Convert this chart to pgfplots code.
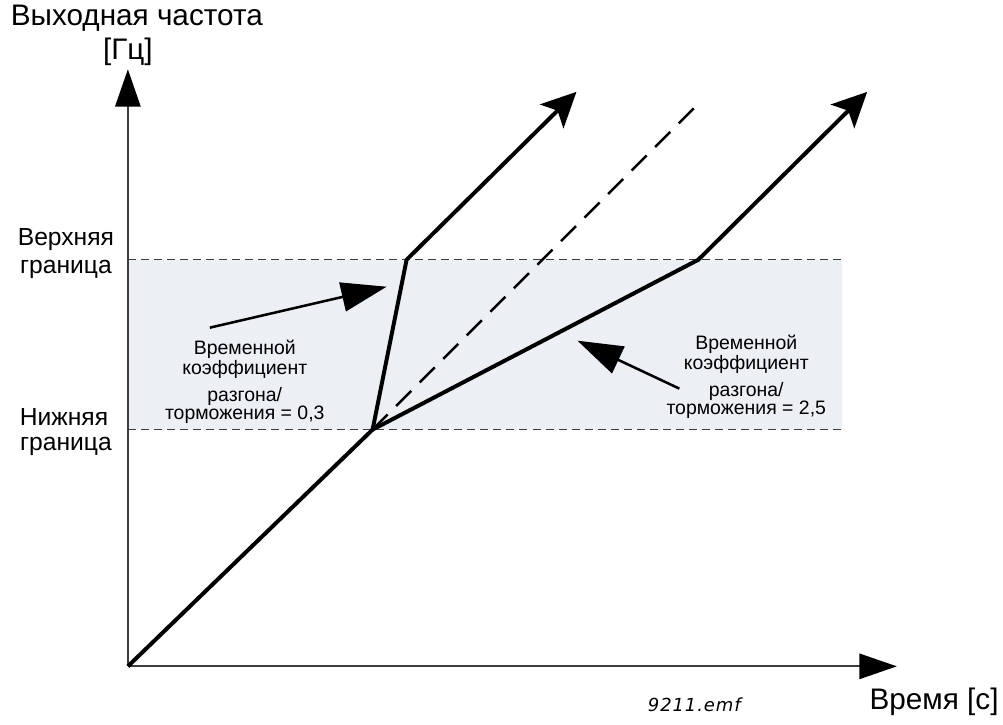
\documentclass[border=0pt]{standalone}
\usepackage{fontspec}
\setmainfont{Liberation Sans}
\newfontfamily\emffont[LetterSpace=5]{DejaVu Sans}
\usepackage{pgfplots}
\pgfplotsset{compat=1.18}
\usetikzlibrary{arrows.meta}

\definecolor{band}{RGB}{236,240,245}
\definecolor{axisgray}{RGB}{60,60,60}

% pixel-based frame: 1 px = 0.75pt, origin of the chart at (128,667) px
\newcommand{\axfont}{\fontsize{22.3}{24}\selectfont}
\newcommand{\lblfont}{\fontsize{18.5}{20}\selectfont}
\newcommand{\notefont}{\fontsize{14.6}{16}\selectfont}

\begin{document}
\begin{tikzpicture}
\begin{axis}[
    scale only axis, width=752.25pt, height=543.75pt,
    xmin=-128, xmax=875, ymin=-58, ymax=667,
    hide axis, clip=false,
]
\path (axis cs:-128,-58) rectangle (axis cs:875,667);

% band between the two frequency limits
\addplot[fill=band, draw=none] coordinates {(0,237) (715,237) (715,407) (0,407) (0,237)};
\addplot[axisgray, line width=0.8pt, dash pattern=on 6pt off 3.8pt] coordinates {(0,407) (715,407)};
\addplot[axisgray, line width=0.8pt, dash pattern=on 6pt off 3.8pt] coordinates {(0,237) (715,237)};

% axes
\addplot[axisgray, line width=1.3pt, -{Triangle[length=28pt,width=19pt,color=black]}, shorten >=-2pt] coordinates {(0,0) (0,595)};
\addplot[axisgray, line width=1.3pt, -{Triangle[length=28pt,width=19pt,color=black]}, shorten >=-2pt] coordinates {(0,0) (767,0)};

% ramps
\addplot[black, line width=1.9pt, dash pattern=on 16pt off 9pt] coordinates {(245,237) (572,564)};
\addplot[black, line width=3pt] coordinates {(0,0) (245,237)};
\addplot[black, line width=3pt, line join=miter, -{Stealth[length=26pt,width=25pt,inset=6pt]}] coordinates {(245,237) (279,407) (449,575)};
\addplot[black, line width=3pt, line join=miter, -{Stealth[length=26pt,width=25pt,inset=6pt]}] coordinates {(245,237) (571,407) (740,575)};

% pointers
\addplot[black, line width=1.9pt, -{Triangle[length=34pt,width=22pt]}] coordinates {(82,339) (259,380)};
\addplot[black, line width=1.9pt, -{Triangle[length=34pt,width=22pt]}] coordinates {(552,278) (450,326)};

% texts
\node[font=\axfont] at (axis cs:9,649) {Выходная частота};
\node[font=\axfont] at (axis cs:0,615) {[Гц]};
\node[font=\lblfont] at (axis cs:-62,427) {Верхняя};
\node[font=\lblfont] at (axis cs:-62,397) {граница};
\node[font=\lblfont] at (axis cs:-64,250) {Нижняя};
\node[font=\lblfont] at (axis cs:-62,220) {граница};

\node[font=\notefont] at (axis cs:117,317) {Временной};
\node[font=\notefont] at (axis cs:117,297) {коэффициент};
\node[font=\notefont] at (axis cs:117,270) {разгона/};
\node[font=\notefont] at (axis cs:117,252) {торможения = 0,3};

\node[font=\notefont] at (axis cs:619,322) {Временной};
\node[font=\notefont] at (axis cs:619,302) {коэффициент};
\node[font=\notefont] at (axis cs:619,275) {разгона/};
\node[font=\notefont] at (axis cs:619,257) {торможения = 2,5};

\node[font=\emffont\itshape\fontsize{13.5}{15}\selectfont] at (axis cs:567,-38) {9211.emf};
\node[font=\axfont] at (axis cs:807,-36) {Время [с]};
\end{axis}
\end{tikzpicture}
\end{document}
